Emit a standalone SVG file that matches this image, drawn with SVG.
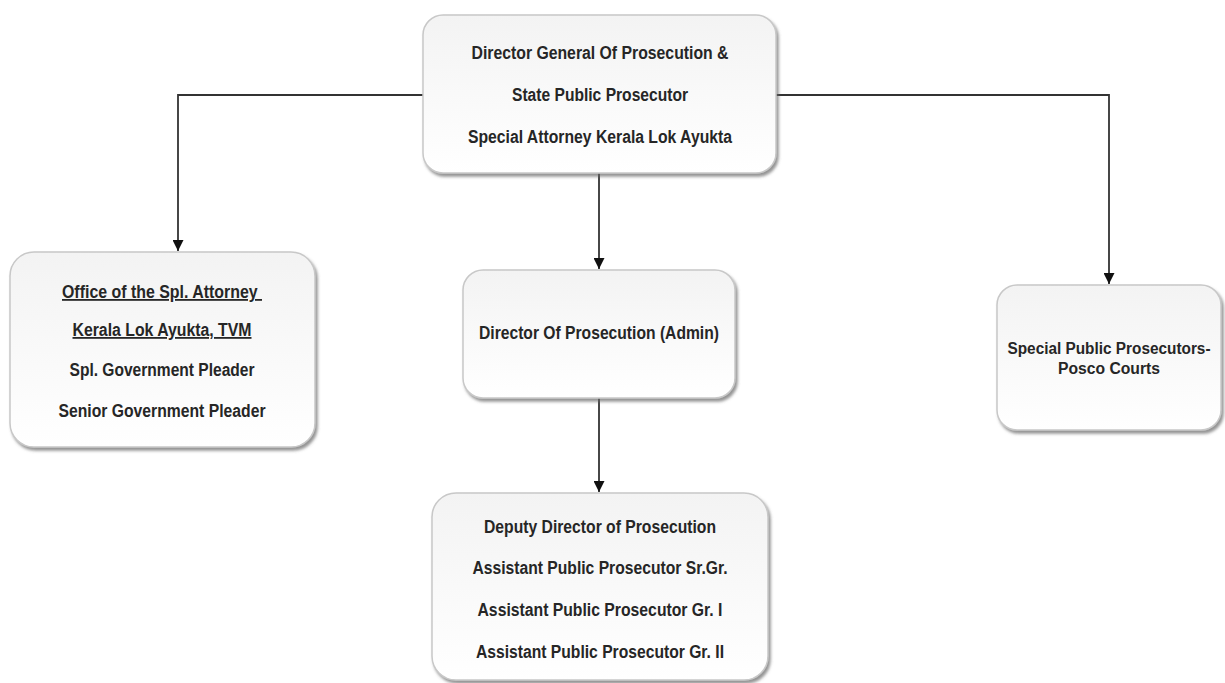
<svg xmlns="http://www.w3.org/2000/svg" width="1225" height="683" viewBox="0 0 1225 683">
<style>
.box{fill:url(#g);stroke:#c8c8c8;stroke-width:1.5;filter:url(#sh)}
.t{font-family:"Liberation Sans",Arial,sans-serif;font-size:18px;font-weight:bold;fill:#262626;text-anchor:middle}
.s{font-size:16px}
.u{text-decoration:underline}
.c{fill:none;stroke:#333;stroke-width:1.8}
</style>
<defs>
<linearGradient id="g" x1="0" y1="0" x2="0" y2="1"><stop offset="0" stop-color="#f3f3f3"/><stop offset="1" stop-color="#ffffff"/></linearGradient>
<filter id="sh" x="-10%" y="-10%" width="125%" height="130%"><feDropShadow dx="2" dy="3" stdDeviation="1.6" flood-color="#666" flood-opacity="0.7"/></filter>
<marker id="a" viewBox="0 0 10 10" refX="10" refY="5" markerWidth="11" markerHeight="11" markerUnits="userSpaceOnUse" orient="auto"><path d="M0,0 L10,5 L0,10 z" fill="#111"/></marker>
</defs>
<rect width="1225" height="683" fill="#fff"/>
<g id="connectors">
<path class="c" d="M423,95 H178 V251" marker-end="url(#a)"/>
<path class="c" d="M776,95 H1109 V284" marker-end="url(#a)"/>
<path class="c" d="M599,173 V269" marker-end="url(#a)"/>
<path class="c" d="M599,398 V492" marker-end="url(#a)"/>
</g>
<g id="dg">
<rect class="box" x="423" y="15" width="353" height="158" rx="20"/>
<text class="t" x="600" y="59" textLength="257" lengthAdjust="spacingAndGlyphs">Director General Of Prosecution &amp;</text>
<text class="t" x="600" y="101" textLength="176" lengthAdjust="spacingAndGlyphs">State Public Prosecutor</text>
<text class="t" x="600" y="143" textLength="264" lengthAdjust="spacingAndGlyphs">Special Attorney Kerala Lok Ayukta</text>
</g>
<g id="office">
<rect class="box" x="10" y="252" width="305" height="195" rx="24"/>
<text class="t u" x="162" y="298" textLength="200" lengthAdjust="spacingAndGlyphs">Office of the Spl. Attorney&#160;</text>
<text class="t u" x="162" y="336" textLength="179" lengthAdjust="spacingAndGlyphs">Kerala Lok Ayukta, TVM</text>
<text class="t" x="162" y="376" textLength="185" lengthAdjust="spacingAndGlyphs">Spl. Government Pleader</text>
<text class="t" x="162" y="417" textLength="207" lengthAdjust="spacingAndGlyphs">Senior Government Pleader</text>
</g>
<g id="admin">
<rect class="box" x="463" y="270" width="272" height="128" rx="20"/>
<text class="t" x="599" y="339" textLength="240" lengthAdjust="spacingAndGlyphs">Director Of Prosecution (Admin)</text>
</g>
<g id="deputy">
<rect class="box" x="432" y="493" width="336" height="187" rx="24"/>
<text class="t" x="600" y="533" textLength="232" lengthAdjust="spacingAndGlyphs">Deputy Director of Prosecution</text>
<text class="t" x="600" y="574" textLength="255" lengthAdjust="spacingAndGlyphs">Assistant Public Prosecutor Sr.Gr.</text>
<text class="t" x="600" y="616" textLength="245" lengthAdjust="spacingAndGlyphs">Assistant Public Prosecutor Gr. I</text>
<text class="t" x="600" y="658" textLength="248" lengthAdjust="spacingAndGlyphs">Assistant Public Prosecutor Gr. II</text>
</g>
<g id="pocso">
<rect class="box" x="997" y="285" width="224" height="145" rx="20"/>
<text class="t s" x="1109" y="354" textLength="203" lengthAdjust="spacingAndGlyphs">Special Public Prosecutors-</text>
<text class="t s" x="1109" y="374" textLength="102" lengthAdjust="spacingAndGlyphs">Posco Courts</text>
</g>
</svg>
